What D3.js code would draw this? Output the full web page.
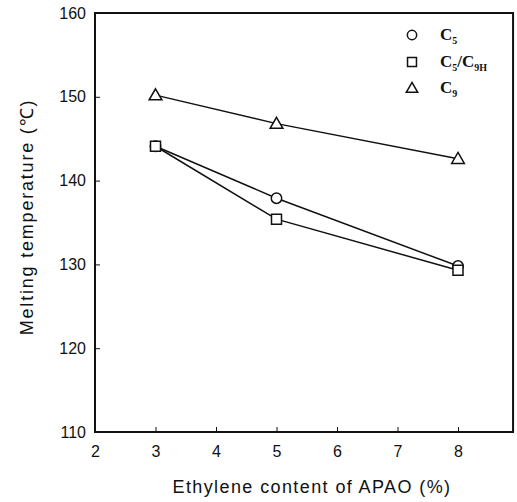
<!DOCTYPE html>
<html>
<head>
<meta charset="utf-8">
<script src="https://cdn.jsdelivr.net/npm/d3@7"></script>
<style>
  body { margin: 0; background: #fff; }
  svg { display: block; }
  .tick text { font-family: "Liberation Sans", Arial, sans-serif; font-size: 16px; fill: #111; }
  .axis-title { font-family: "Liberation Sans", Arial, sans-serif; font-size: 18px; fill: #111; }
  .legend text { font-family: "Liberation Serif", "Times New Roman", serif; font-weight: bold; font-size: 17px; fill: #111; }
</style>
</head>
<body>
<div id="chart"></div>
<script>
// data
const ethylene = [3, 5, 8];
const c5 = [144.1, 137.9, 129.8];
const c5c9h = [144.1, 135.4, 129.3];
const c9 = [150.2, 146.8, 142.6];
const xTicks = [2, 3, 4, 5, 6, 7, 8];
const yTicks = [110, 120, 130, 140, 150, 160];

const width = 517, height = 502;

const xScale = d3.scaleLinear().domain([2, 8]).range([95, 458]);
const yScale = d3.scaleLinear().domain([110, 160]).range([432, 13]);
const xMax = 8.91;

const svg = d3.select("#chart").append("svg")
  .attr("width", width)
  .attr("height", height);

// frame
svg.append("rect")
  .attr("x", xScale(2))
  .attr("y", yScale(160))
  .attr("width", xScale(xMax) - xScale(2))
  .attr("height", yScale(110) - yScale(160))
  .attr("fill", "none")
  .attr("stroke", "#111")
  .attr("stroke-width", 2);

// axes, ticks pointing inward
const xAxis = d3.axisBottom(xScale).tickValues(xTicks).tickFormat(d3.format("d"))
  .tickSizeInner(-5).tickSizeOuter(0).tickPadding(14);
const yAxis = d3.axisLeft(yScale).tickValues(yTicks).tickFormat(d3.format("d"))
  .tickSizeInner(-5).tickSizeOuter(0).tickPadding(9);

svg.append("g")
  .attr("transform", `translate(0,${yScale(110)})`)
  .call(xAxis)
  .call(g => g.select(".domain").remove())
  .call(g => g.selectAll(".tick line").attr("stroke", "#111"));

svg.append("g")
  .attr("transform", `translate(${xScale(2)},0)`)
  .call(yAxis)
  .call(g => g.select(".domain").remove())
  .call(g => g.selectAll(".tick line").attr("stroke", "#111"));

// axis titles
svg.append("text")
  .attr("class", "axis-title")
  .attr("x", 312)
  .attr("y", 493)
  .attr("text-anchor", "middle")
  .attr("letter-spacing", "1.4px")
  .text("Ethylene content of APAO (%)");

svg.append("text")
  .attr("class", "axis-title")
  .attr("transform", "translate(33,217) rotate(-90)")
  .attr("text-anchor", "middle")
  .attr("letter-spacing", "1.8px")
  .text("Melting temperature (℃)");

// series
const series = [
  { name: "C5", sub: "5", values: c5, symbol: d3.symbolCircle, size: 85 },
  { name: "C5/C9H", sub: "5", values: c5c9h, symbol: d3.symbolSquare, size: 100 },
  { name: "C9", sub: "9", values: c9, symbol: d3.symbolTriangle, size: 70 }
];

const line = d3.line()
  .x((d, i) => xScale(ethylene[i]))
  .y(d => yScale(d));

svg.selectAll("path.trend")
  .data(series)
  .join("path")
  .attr("class", "trend")
  .attr("d", d => line(d.values))
  .attr("fill", "none")
  .attr("stroke", "#111")
  .attr("stroke-width", 1.5);

series.forEach(s => {
  svg.selectAll(null)
    .data(s.values)
    .join("path")
    .attr("transform", (d, i) => `translate(${xScale(ethylene[i])},${yScale(d) + (s.symbol === d3.symbolTriangle ? 1 : 0)})`)
    .attr("d", d3.symbol().type(s.symbol).size(s.size))
    .attr("fill", "#fff")
    .attr("stroke", "#111")
    .attr("stroke-width", 1.5);
});

// legend
const legend = svg.append("g").attr("class", "legend");
const legendY = [35, 62, 88];

series.forEach((s, i) => {
  const g = legend.append("g").attr("transform", `translate(0,${legendY[i]})`);
  g.append("path")
    .attr("transform", `translate(412,${s.symbol === d3.symbolTriangle ? 1 : 0})`)
    .attr("d", d3.symbol().type(s.symbol).size(s.size * 0.8))
    .attr("fill", "#fff")
    .attr("stroke", "#111")
    .attr("stroke-width", 1.5);
  const t = g.append("text").attr("x", 440).attr("y", 5);
  if (s.name === "C5/C9H") {
    t.append("tspan").text("C");
    t.append("tspan").attr("font-size", "10px").attr("dy", 4).text("5");
    t.append("tspan").attr("dy", -4).text("/C");
    t.append("tspan").attr("font-size", "10px").attr("dy", 4).text("9H");
  } else {
    t.append("tspan").text("C");
    t.append("tspan").attr("font-size", "10px").attr("dy", 4).text(s.sub);
  }
});
</script>
</body>
</html>
